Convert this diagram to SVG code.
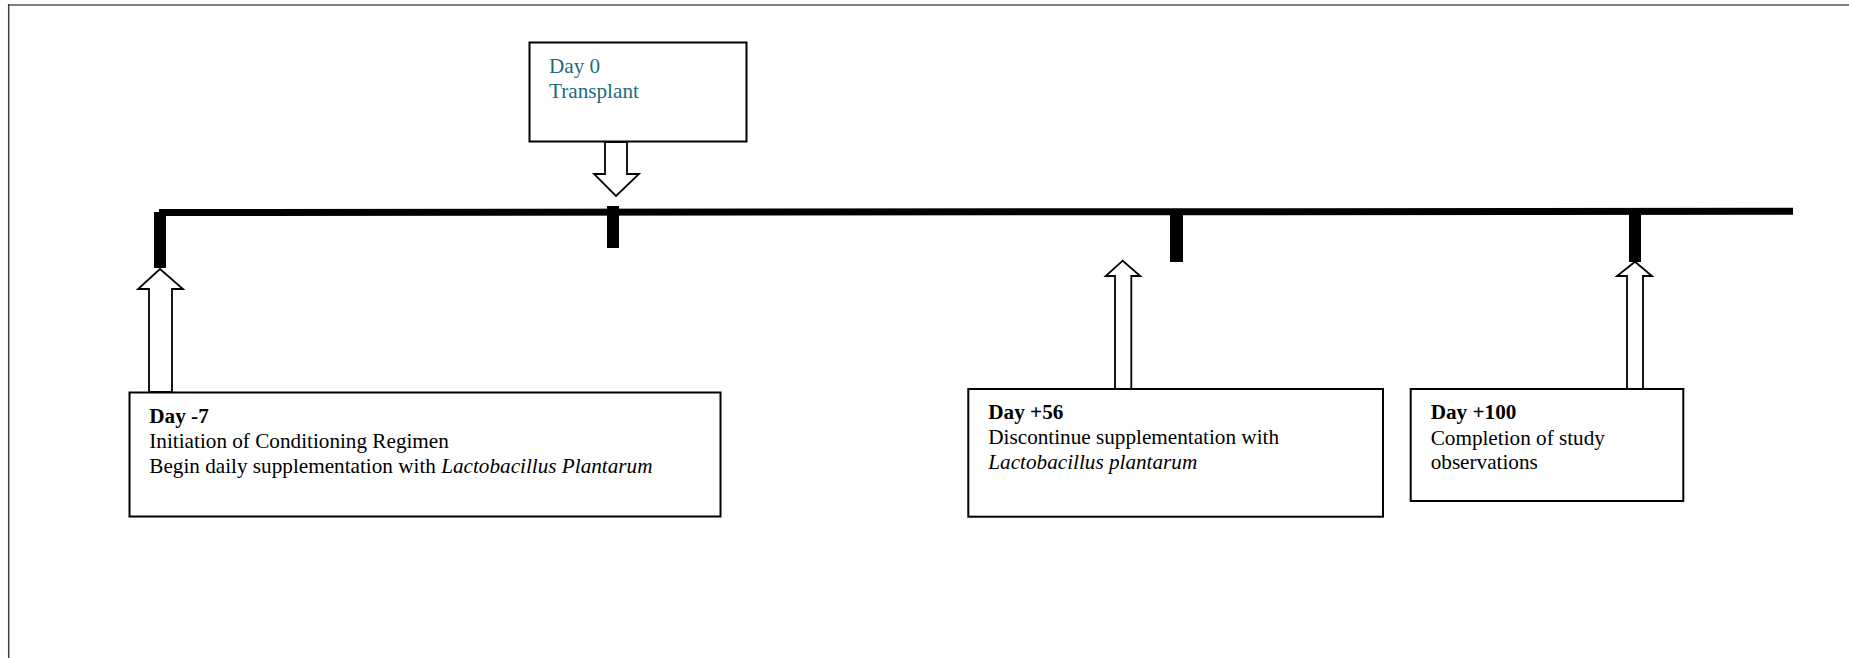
<svg xmlns="http://www.w3.org/2000/svg" width="1849" height="658" viewBox="0 0 1849 658">
<style>
.box{fill:#fff;stroke:#000;stroke-width:2}
.arr{fill:#fff;stroke:#000;stroke-width:1.8;stroke-linejoin:miter}
.tick{fill:#000}
text{font-family:"Liberation Serif","Times New Roman",serif;font-size:21.2px;fill:#000}
.b{font-weight:bold}
.i{font-style:italic}
.teal{fill:#1B6C7C}
</style>
<rect x="0" y="0" width="1849" height="658" fill="#fff"/>
<line x1="8" y1="5" x2="1849" y2="5" stroke="#808080" stroke-width="2"/>
<line x1="8.7" y1="4" x2="8.7" y2="658" stroke="#404040" stroke-width="1.5"/>
<g id="connectors">
<line x1="159" y1="212.5" x2="1793" y2="211.3" stroke="#000" stroke-width="7"/>
<rect class="tick" x="154" y="212" width="12" height="56"/>
<rect class="tick" x="607" y="206" width="12" height="42"/>
<rect class="tick" x="1170" y="212" width="13" height="50"/>
<rect class="tick" x="1629" y="212" width="12" height="50"/>
<polygon class="arr" points="605,142 627,142 627,174 639,174 616,196 594,174 605,174"/>
<polygon class="arr" points="149,392 149,289 138,289 160,269 183,289 172,289 172,392"/>
<polygon class="arr" points="1115,389 1115,276 1105.7,276 1122.7,260.7 1140.3,276 1131.3,276 1131.3,389"/>
<polygon class="arr" points="1627,389 1627,276 1617,276 1635,261.7 1652,276 1643,276 1643,389"/>
</g>
<g id="day0">
<rect class="box" x="529.5" y="42.5" width="217" height="99"/>
<text class="teal" x="549" y="73.3">Day 0</text>
<text class="teal" x="549" y="97.7">Transplant</text>
</g>
<g id="dayminus7">
<rect class="box" x="129.5" y="392.5" width="591" height="124"/>
<text class="b" x="149.3" y="422.7">Day -7</text>
<text x="149.3" y="448.3">Initiation of Conditioning Regimen</text>
<text x="149.3" y="473.3">Begin daily supplementation with <tspan class="i">Lactobacillus Plantarum</tspan></text>
</g>
<g id="day56">
<rect class="box" x="968.3" y="389" width="414.7" height="127.7"/>
<text class="b" x="988.3" y="418.7">Day +56</text>
<text x="988.3" y="444">Discontinue supplementation with</text>
<text class="i" x="988.3" y="469.3">Lactobacillus plantarum</text>
</g>
<g id="day100">
<rect class="box" x="1410.7" y="389" width="272.6" height="112"/>
<text class="b" x="1430.7" y="419.3">Day +100</text>
<text x="1430.7" y="445">Completion of study</text>
<text x="1430.7" y="469.3">observations</text>
</g>
</svg>
